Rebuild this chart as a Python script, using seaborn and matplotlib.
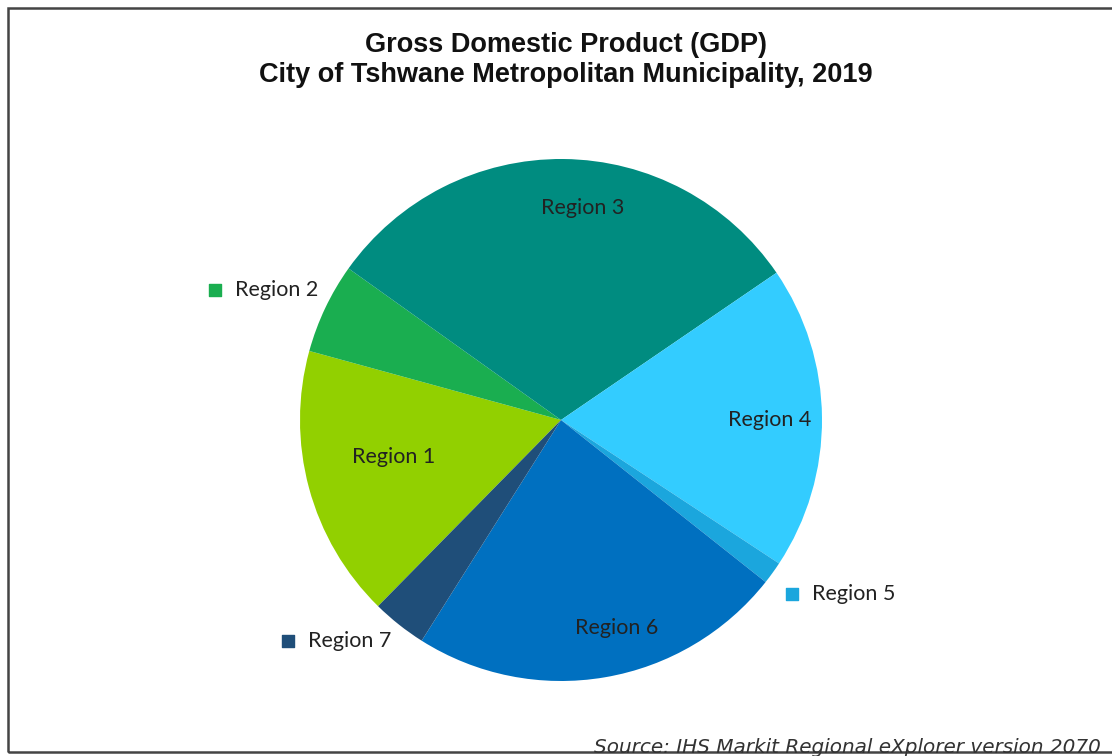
import matplotlib
matplotlib.use("Agg")
import matplotlib.pyplot as plt
import seaborn as sns
from matplotlib.patches import Rectangle
import numpy as np

# GDP share by region (%), City of Tshwane, 2019
regions = ["Region 1", "Region 2", "Region 3", "Region 4", "Region 5", "Region 6", "Region 7"]
gdp_share = [16.9, 5.6, 30.6, 18.8, 1.4, 23.3, 3.4]
colors = ["#92D000", "#1AAE50", "#008C80", "#33CCFF", "#1BA6DD", "#0070C0", "#1F4E79"]

title_lines = ["Gross Domestic Product (GDP)", "City of Tshwane Metropolitan Municipality, 2019"]
source_text = "Source: IHS Markit Regional eXplorer version 2070"

sns.set_theme(style="white")
plt.rcParams["font.family"] = ["Liberation Sans", "DejaVu Sans"]

W, H = 1112, 756
fig = plt.figure(figsize=(W / 100, H / 100), dpi=100)
fig.patch.set_facecolor("white")

# pie axes: centre (561, 420) px, radius 261 px
cx, cy, r = 561, 420, 261
ax = fig.add_axes([(cx - r) / W, (H - cy - r) / H, 2 * r / W, 2 * r / H])
wedges, _ = ax.pie(gdp_share, colors=colors, startangle=225.5, counterclock=False,
                   radius=1.0, wedgeprops=dict(linewidth=0))
ax.set_xlim(-1, 1)
ax.set_ylim(-1, 1)
ax.set_aspect("equal")
ax.axis("off")

label_font = dict(family=["Lato", "DejaVu Sans"], fontsize=15.5, color="#222222")

# labels drawn inside the larger slices
inside = {"Region 3": (0.084, 0.812), "Region 4": (0.80, 0.0),
          "Region 1": (-0.64, -0.142), "Region 6": (0.215, -0.797)}
for name, (x, y) in inside.items():
    ax.text(x, y, name, ha="center", va="center", **label_font)

# small slices get an outside label with a colour key square
outside = {"Region 2": (-1.326, 0.498), "Region 7": (-1.046, -0.847), "Region 5": (0.885, -0.667)}
for name, (x, y) in outside.items():
    c = colors[regions.index(name)]
    ax.scatter([x], [y], marker="s", s=70, color=c, clip_on=False, zorder=5)
    ax.text(x + 0.078, y, name, ha="left", va="center", clip_on=False, **label_font)

# title
fig.text(566 / W, 1 - 45 / H, title_lines[0], ha="center", va="center",
         fontsize=19.5, fontweight="bold", color="#111111")
fig.text(566 / W, 1 - 75 / H, title_lines[1], ha="center", va="center",
         fontsize=19.5, fontweight="bold", color="#111111")

# source note
fig.text(594 / W, 1 - 753 / H, source_text, ha="left", va="baseline",
         fontsize=14.4, style="italic", color="#333333",
         family=["DejaVu Sans"])

# chart frame
frame = Rectangle((8 / W, 1 - 752 / H), (W + 10 - 8) / W, (752 - 8) / H,
                  transform=fig.transFigure, fill=False, edgecolor="#444444",
                  linewidth=1.8, clip_on=False)
fig.patches.append(frame)

fig.savefig("out.png", dpi=100, facecolor="white")
